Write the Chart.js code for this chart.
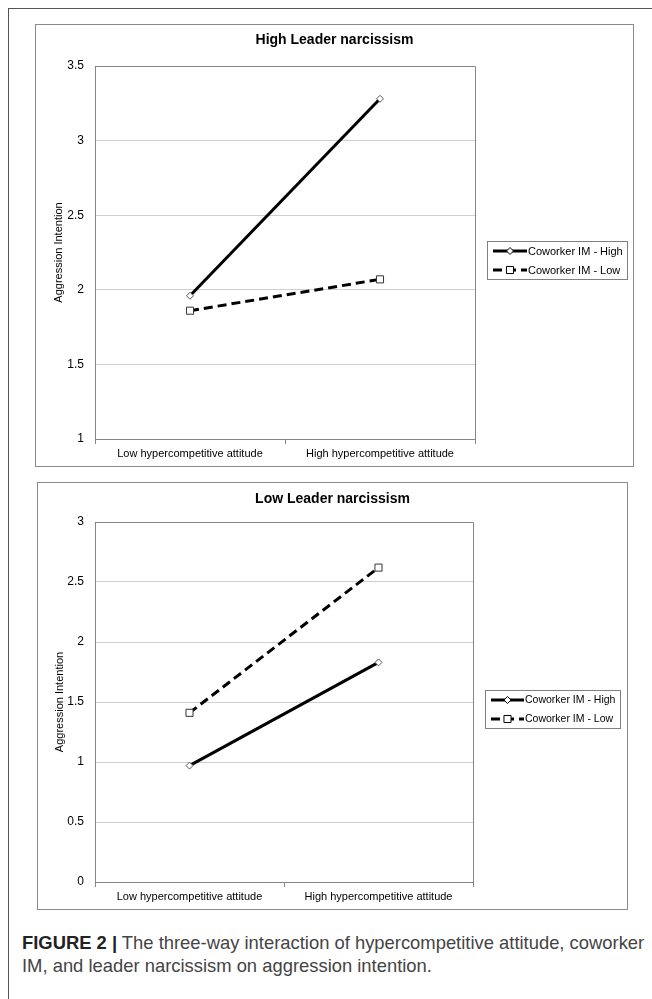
<!DOCTYPE html>
<html>
<head>
<meta charset="utf-8">
<script src="https://cdn.jsdelivr.net/npm/chart.js@4.4.1/dist/chart.umd.min.js"></script>
<style>
  body { margin: 0; background: #fff; width: 652px; height: 999px; position: relative; overflow: hidden; font-family: "Liberation Sans", Arial, sans-serif; }
  #frame { position: absolute; left: 8px; top: 8px; width: 660px; height: 1000px; border-top: 1px solid #555; border-left: 1px solid #555; }
  #c1 { position: absolute; left: 35px; top: 24px; }
  #c2 { position: absolute; left: 37px; top: 482px; }
  #caption { position: absolute; left: 22px; top: 931px; font-size: 18.4px; line-height: 23px; color: #444; white-space: nowrap; }
  #caption b { color: #222; }
</style>
</head>
<body>
<div id="frame"></div>
<canvas id="c1" width="599" height="443"></canvas>
<canvas id="c2" width="591" height="428"></canvas>
<div id="caption"><b>FIGURE 2 |</b> The three-way interaction of hypercompetitive attitude, coworker<br>IM, and leader narcissism on aggression intention.</div>
<script>
// categories and series values
var categories = ["Low hypercompetitive attitude", "High hypercompetitive attitude"];
var seriesNames = ["Coworker IM - High", "Coworker IM - Low"];
var highNarcHigh = [1.96, 3.28];
var highNarcLow = [1.86, 2.07];
var lowNarcHigh = [0.97, 1.83];
var lowNarcLow = [1.41, 2.62];

var font = "'Liberation Sans', Arial, sans-serif";
var gray = "#868686";

// box around each chart + plot area border
var framePlugin = {
    id: "frame",
    beforeDraw: function (chart) {
        var ctx = chart.ctx;
        ctx.save();
        ctx.strokeStyle = "#8a8a8a";
        ctx.lineWidth = 1;
        ctx.strokeRect(0.5, 0.5, chart.width - 1, chart.height - 1);
        ctx.restore();
    },
    beforeDatasetsDraw: function (chart) {
        var ctx = chart.ctx, a = chart.chartArea;
        ctx.save();
        ctx.strokeStyle = gray;
        ctx.lineWidth = 1;
        ctx.beginPath();
        ctx.moveTo(Math.round(a.left), Math.round(a.top) + 0.5);
        ctx.lineTo(Math.round(a.right) + 0.5, Math.round(a.top) + 0.5);
        ctx.lineTo(Math.round(a.right) + 0.5, Math.round(a.bottom));
        ctx.stroke();
        ctx.restore();
    }
};

// excel style legend in a box to the right
var legendBox = {
    id: "legendBox",
    afterDraw: function (chart, args, opts) {
        var ctx = chart.ctx, a = chart.chartArea;
        var w = opts.width, h = 38;
        var x = Math.round(a.right + opts.dx);
        var y = Math.round((a.top + a.bottom) / 2 + opts.dy - h / 2);
        ctx.save();
        ctx.strokeStyle = "#808080";
        ctx.lineWidth = 1;
        ctx.strokeRect(x + 0.5, y + 0.5, w, h);
        chart.data.datasets.forEach(function (ds, i) {
            var ry = y + 10 + i * 19;
            ctx.strokeStyle = "#000";
            ctx.lineWidth = 3;
            ctx.setLineDash(ds.borderDash || []);
            ctx.beginPath();
            ctx.moveTo(x + 6, ry);
            ctx.lineTo(x + opts.sample, ry);
            ctx.stroke();
            ctx.setLineDash([]);
            ctx.fillStyle = "#fff";
            ctx.strokeStyle = "#000";
            ctx.lineWidth = 1;
            Chart.helpers.drawPoint(ctx, {pointStyle: ds.pointStyle, radius: ds.pointRadius, rotation: 0, borderWidth: 1}, x + 6 + (opts.sample - 6) / 2, ry);
            ctx.fillStyle = "#000";
            ctx.font = opts.size + "px " + font;
            ctx.textBaseline = "middle";
            ctx.fillText(ds.label, x + opts.sample + 1, ry + 0.5);
        });
        ctx.restore();
    }
};

function fmt(v) {
    return String(Math.round(v * 10) / 10);
}

function makeChart(id, title, highVals, lowVals, o) {
    return new Chart(document.getElementById(id).getContext("2d"), {
        type: "line",
        data: {
            labels: categories,
            datasets: [
                {
                    label: seriesNames[0],
                    data: highVals,
                    borderColor: "#000",
                    borderWidth: 3,
                    pointStyle: "rectRot",
                    pointRadius: 3.5,
                    pointBackgroundColor: "#fff",
                    pointBorderColor: "#555",
                    pointBorderWidth: 1,
                    tension: 0
                },
                {
                    label: seriesNames[1],
                    data: lowVals,
                    borderColor: "#000",
                    borderWidth: 3,
                    borderDash: [9, 5],
                    pointStyle: "rect",
                    pointRadius: 5,
                    pointBackgroundColor: "#fff",
                    pointBorderColor: "#333",
                    pointBorderWidth: 1,
                    tension: 0
                }
            ]
        },
        options: {
            responsive: false,
            animation: false,
            events: [],
            layout: { padding: 0 },
            plugins: {
                legend: { display: false },
                tooltip: { enabled: false },
                title: {
                    display: true,
                    text: title,
                    color: "#000",
                    font: { family: font, size: 14, weight: "bold" },
                    padding: { top: o.titleTop, bottom: o.titleBottom }
                },
                legendBox: { dx: 12, dy: o.legendDy, width: o.legendW, size: o.legendSize, sample: o.sample }
            },
            scales: {
                x: {
                    offset: true,
                    grid: { offset: true, drawOnChartArea: false, tickLength: 5, color: gray },
                    border: { color: gray },
                    ticks: { padding: 3, color: "#000", maxRotation: 0, font: { family: font, size: 11 } },
                    afterFit: function (s) { s.height = 28; }
                },
                y: {
                    min: o.min,
                    max: o.max,
                    ticks: { stepSize: 0.5, padding: 11, color: "#000", font: { family: font, size: 12 }, callback: fmt },
                    grid: { color: "#d0d0d0", drawTicks: false },
                    border: { color: gray },
                    title: {
                        display: true,
                        text: "Aggression Intention",
                        color: "#000",
                        font: { family: font, size: 11 },
                        padding: { top: o.yTitlePad, bottom: 0 }
                    },
                    afterFit: function (s) { s.width = o.yWidth; }
                },
                // empty right column that holds the legend space
                side: {
                    position: "right",
                    min: o.min,
                    max: o.max,
                    grid: { display: false },
                    border: { display: false },
                    ticks: { display: false },
                    afterFit: function (s) { s.width = o.padRight; }
                }
            }
        },
        plugins: [framePlugin, legendBox]
    });
}

makeChart("c1", "High Leader narcissism", highNarcHigh, highNarcLow,
    { min: 1, max: 3.5, padRight: 159, yWidth: 60, titleTop: 8, titleBottom: 17.2, yTitlePad: 17, legendDy: 7.5, legendW: 140, legendSize: 11, sample: 40 });
makeChart("c2", "Low Leader narcissism", lowNarcHigh, lowNarcLow,
    { min: 0, max: 3, padRight: 155, yWidth: 58, titleTop: 9, titleBottom: 14.2, yTitlePad: 16, legendDy: 7, legendW: 135, legendSize: 10.5, sample: 39 });
</script>
</body>
</html>
